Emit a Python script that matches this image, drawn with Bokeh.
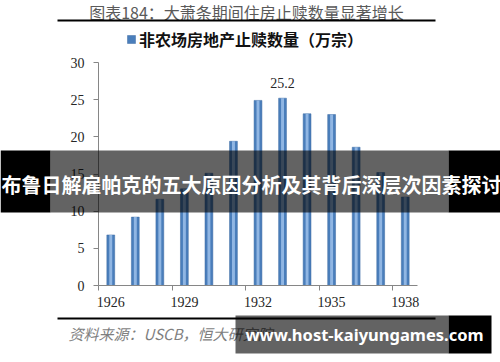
from bokeh.plotting import figure
from bokeh.models import (ColumnDataSource, FixedTicker, Label, LabelSet, BoxAnnotation,
                          Legend, LegendItem, Range1d)
from bokeh.embed import file_html
from bokeh.resources import INLINE

# ---------------- data ----------------
years = [1926, 1927, 1928, 1929, 1930, 1931, 1932, 1933, 1934, 1935, 1936, 1937, 1938]
foreclosures = [6.8, 9.2, 11.6, 13.0, 15.1, 19.4, 24.9, 25.2, 23.1, 23.0, 18.6, 15.2, 11.9]
x_tick_years = [1926, 1929, 1932, 1935, 1938]
y_ticks = [0, 5, 10, 15, 20, 25, 30]
title_text = "图表184：大萧条期间住房止赎数量显著增长"
legend_text = "非农场房地产止赎数量（万宗）"
source_text = "资料来源：USCB，恒大研究院"
banner_text = "布鲁日解雇帕克的五大原因分析及其背后深层次因素探讨"
watermark_text = "www.host-kaiyungames.com"

# ---------------- layout ----------------
W, H = 500, 362
PL, PR, PT, PB = 98, 417, 62, 285   # plot-area edges in page pixels

n = len(years)
ymax = y_ticks[-1]
kx = (PR - PL) / n
ky = (PB - PT) / ymax
x_range = Range1d(-PL / kx, n + (W - PR) / kx)
y_range = Range1d(-(H - PB) / ky, ymax + PT / ky)


def sx(px):
    return px


def sy(py):
    return H - py


x_pos = [y - years[0] + 0.5 for y in years]
src = ColumnDataSource(dict(x=x_pos, v=foreclosures))

p = figure(width=W, height=H, output_backend="svg", toolbar_location=None,
           x_range=x_range, y_range=y_range,
           min_border=0, min_border_left=0, min_border_right=0,
           min_border_top=0, min_border_bottom=0)
p.outline_line_color = None
p.grid.visible = False
p.background_fill_color = "white"
p.border_fill_color = "white"

bars = p.vbar(x="x", top="v", width=0.32, bottom=0, source=src,
              fill_color="#4a7ebb", line_color="#3c6aa3", line_width=0.5)
p.vbar(x="x", top="v", width=0.12, bottom=0, source=src,
       fill_color="#9cc0ea", fill_alpha=0.85, line_color=None)

# axes drawn at fixed data locations inside the full-canvas frame
for ax in (p.xaxis[0], p.yaxis[0]):
    ax.axis_line_color = "#868686"
    ax.major_tick_line_color = "#868686"
    ax.minor_tick_line_color = None
    ax.major_tick_in = 0
    ax.major_tick_out = 5
    ax.fixed_location = 0
p.xaxis.bounds = (0, n)
p.yaxis.bounds = (y_ticks[0], ymax)
p.xaxis.ticker = FixedTicker(ticks=[y - years[0] for y in x_tick_years])
p.xaxis.major_label_text_color = None
p.yaxis.ticker = FixedTicker(ticks=y_ticks)
p.yaxis.major_label_text_font = "Liberation Serif"
p.yaxis.major_label_text_font_size = "14px"
p.yaxis.major_label_text_color = "#262626"
p.yaxis.major_label_standoff = 9

# year labels centered on categories
lab_src = ColumnDataSource(dict(x=[y - years[0] + 0.5 for y in x_tick_years],
                                y=[0] * len(x_tick_years),
                                t=[str(y) for y in x_tick_years]))
p.add_layout(LabelSet(x="x", y="y", text="t", source=lab_src, y_offset=-16,
                      text_align="center", text_baseline="middle",
                      text_font="Liberation Serif", text_font_size="14px",
                      text_color="#262626"))

# peak value label
imax = foreclosures.index(max(foreclosures))
pk_src = ColumnDataSource(dict(x=[x_pos[imax]], y=[foreclosures[imax]],
                               t=[str(foreclosures[imax])]))
p.add_layout(LabelSet(x="x", y="y", text="t", source=pk_src, y_offset=15,
                      text_align="center", text_baseline="middle",
                      text_font="Liberation Serif", text_font_size="14px",
                      text_color="#262626"))

# legend
legend = Legend(items=[LegendItem(label=legend_text, renderers=[bars])],
                location=(sx(126), sy(51)), orientation="horizontal",
                glyph_width=10, glyph_height=10, label_standoff=3,
                padding=0, margin=0, spacing=0, border_line_color=None,
                background_fill_alpha=0,
                label_text_font="Noto Sans CJK SC", label_text_font_style="bold",
                label_text_font_size="16px", label_text_color="#111111")
p.add_layout(legend, "center")


def box(x0, x1, y0, y1, color, alpha=1.0, level="annotation"):
    b = BoxAnnotation(left=sx(x0), right=sx(x1), top=sy(y0), bottom=sy(y1),
                      left_units="screen", right_units="screen",
                      top_units="screen", bottom_units="screen",
                      fill_color=color, fill_alpha=alpha, line_color=None, level=level)
    p.add_layout(b)


def label(text, x, y, size, color, font="Noto Sans CJK SC", style="normal",
          align="left", level="annotation"):
    l = Label(x=sx(x), y=sy(y), x_units="screen", y_units="screen", text=text,
              text_font=font, text_font_size=size, text_color=color,
              text_font_style=style, text_align=align, text_baseline="middle",
              level=level)
    p.add_layout(l)


# title and rules
label(title_text, 246, 11, "16px", "#5a5a5a", align="center")
box(57, 435, 19, 21, "black")
box(57, 435, 317, 319, "black")
label(source_text, 68, 333, "15px", "#7f7f7f", style="italic")

# overlay banner
box(50, 448, 150, 212, "black", 0.61, level="overlay")
box(0, 50, 150, 212, "black", 1.0, level="overlay")
box(448, 500, 150, 212, "black", 1.0, level="overlay")
label(banner_text, 1, 184, "20px", "white", style="bold", level="overlay")

# watermark
box(235, 448, 315, 353, "black", 0.61, level="overlay")
box(448, 491, 315, 353, "black", 1.0, level="overlay")
label(watermark_text, 245, 334, "16.5px", "white", font="Noto Sans", style="bold",
      level="overlay")

open("out.html", "w").write(file_html(p, INLINE))
